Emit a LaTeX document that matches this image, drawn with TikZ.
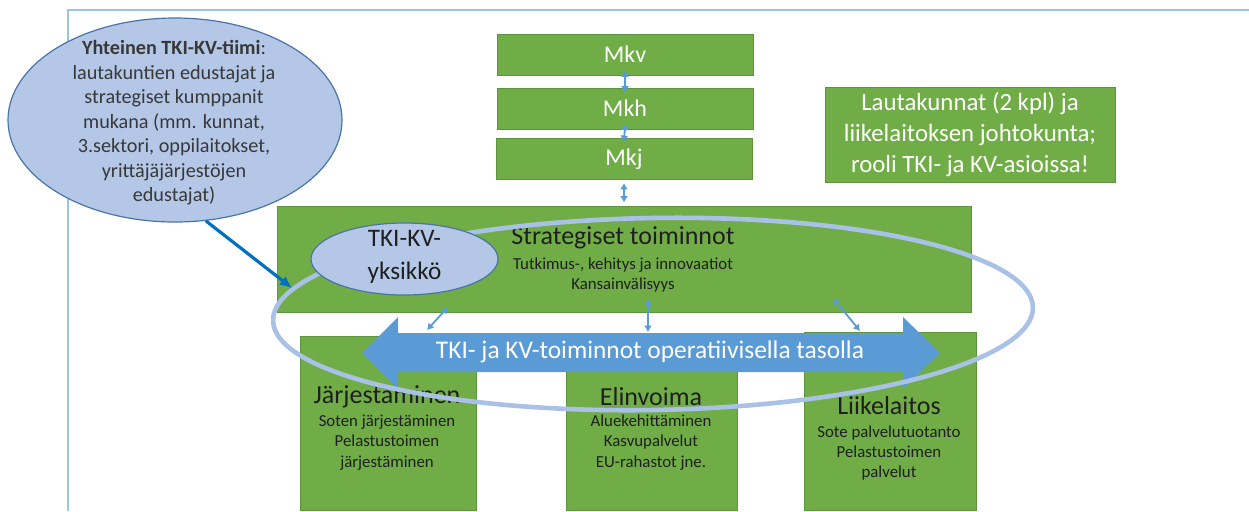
\documentclass[tikz,border=0pt]{standalone}
\usepackage{fontspec}
\setmainfont{Carlito}
\usetikzlibrary{shapes.geometric,arrows.meta}
\definecolor{greenfill}{HTML}{70AD47}
\definecolor{greenedge}{HTML}{5E9440}
\definecolor{ovalfill}{HTML}{B4C7E7}
\definecolor{ovaledge}{HTML}{4A74A8}
\definecolor{linkblue}{HTML}{5B9BD5}
\definecolor{teamblue}{HTML}{0070C0}
\definecolor{ringblue}{HTML}{A9C1E6}
\definecolor{framecol}{HTML}{9DC3E6}
\definecolor{inktext}{HTML}{1F1F1F}
\tikzset{
  greenbox/.style = {shape=rectangle, draw=greenedge, fill=greenfill,
                     inner sep=0pt, line width=0.5pt},
  mkbox/.style    = {greenbox, minimum width=128pt, minimum height=20.5pt,
                     text=white, font=\fontsize{12}{14}\selectfont},
  oval/.style     = {shape=ellipse, draw=ovaledge, fill=ovalfill,
                     inner sep=0pt, line width=0.6pt},
  headtext/.style = {text=inktext, font=\fontsize{13}{15}\selectfont},
  subtext/.style  = {align=center, text=inktext,
                     font=\fontsize{8.4}{10.2}\selectfont},
  link/.style     = {{Latex[length=3.2pt,width=4pt]}-{Latex[length=3.2pt,width=4pt]},
                     draw=linkblue, line width=0.9pt}
}
\begin{document}
\begin{tikzpicture}[x=0.5pt,y=-0.5pt]
 \useasboundingbox (0,0) rectangle (1249,511);
 % frame
 \draw[framecol, line width=0.6pt] (1249,10) -- (68,10) -- (68,511);

 % team
 \node[oval, minimum width=167pt, minimum height=102pt] (team) at (175,120) {};
 \node[align=center, text=black!78, font=\fontsize{10.1}{12.25}\selectfont]
   (teamtext) at (174,123)
   {\textbf{Yhteinen TKI-KV-tiimi}:\\ lautakuntien edustajat ja\\
    strategiset kumppanit\\ mukana (mm. kunnat,\\
    3.sektori, oppilaitokset,\\ yrittäjäjärjestöjen\\ edustajat)};

 % boards
 \node[mkbox] (mkv) at (625,54.5) {Mkv};
 \node[mkbox] (mkh) at (625,108.5) {Mkh};
 \node[mkbox] (mkj) at (624,159) {Mkj};
 \node[greenbox, minimum width=145pt, minimum height=47.5pt, align=center,
       text=white, font=\fontsize{12.4}{15.5}\selectfont] (lauta) at (970,134.5)
   {Lautakunnat (2 kpl) ja\\ liikelaitoksen johtokunta;\\ rooli TKI- ja KV-asioissa!};

 % strategic level
 \node[greenbox, minimum width=347pt, minimum height=53pt] (strat) at (624,259) {};
 \node[headtext] (strattitle) at (623,238) {Strategiset toiminnot};
 \node[subtext] (stratsub) at (623,275)
   {Tutkimus-, kehitys ja innovaatiot\\ Kansainvälisyys};

 % operative units
 \node[greenbox, minimum width=88pt, minimum height=87pt] (jarj) at (388,423) {};
 \node[greenbox, minimum width=85.5pt, minimum height=85pt] (elin) at (651.5,425) {};
 \node[greenbox, minimum width=86pt, minimum height=89pt] (liike) at (890,421) {};
 \node[headtext] (jarjtitle) at (387,397) {Järjestäminen};
 \node[subtext] (jarjsub) at (387,442.5)
   {Soten järjestäminen\\ Pelastustoimen\\ järjestäminen};
 \node[headtext] (elintitle) at (651,397) {Elinvoima};
 \node[subtext] (elinsub) at (651,442.5)
   {Aluekehittäminen\\ Kasvupalvelut\\ EU-rahastot jne.};
 \node[headtext] (liiketitle) at (889,406) {Liikelaitos};
 \node[subtext] (liikesub) at (889,453)
   {Sote palvelutuotanto\\ Pelastustoimen\\ palvelut};

 % operative arrow
 \fill[linkblue] (362,353) -- (398,317) -- (398,333) -- (903,333) -- (903,317)
   -- (940,353) -- (903,389) -- (903,372) -- (398,372) -- (398,389) -- cycle;
 \node[text=white, font=\fontsize{12.7}{15}\selectfont] (optext) at (650,352)
   {TKI- ja KV-toiminnot operatiivisella tasolla};

 % ring round the levels
 \draw[ringblue, line width=2.3pt, rotate around={1:(653,314)}]
   (653,314) ellipse [x radius=380, y radius=96];

 \node[oval, minimum width=93.5pt, minimum height=36pt] (unit) at (404.5,259) {};
 \node[align=center, text=inktext, font=\fontsize{12.6}{16.5}\selectfont]
   (unittext) at (404.5,256.5) {TKI-KV-\\ yksikkö};

 % links
 \coordinate (ringpt) at (292,288);
 \draw[teamblue, line width=1.6pt, -{Latex[length=6pt,width=5.5pt]}]
   (team.-73) -- (ringpt);
 \draw[link, shorten <=-2.5pt, shorten >=-2.5pt] (mkv.south) -- (mkh.north);
 \draw[link, shorten <=-3pt, shorten >=-2pt] (mkh.south) -- (mkj.north);
 \draw[link, shorten <=1.5pt, shorten >=1.5pt] (mkj.south) -- (strat.north);
 \coordinate (sl) at (448,307); \coordinate (ol) at (427,330);
 \coordinate (sm) at (648,299); \coordinate (om) at (648,332);
 \coordinate (sr) at (833,298); \coordinate (or) at (860,331);
 \draw[link] (sl) -- (ol);
 \draw[link] (sm) -- (om);
 \draw[link] (sr) -- (or);
\end{tikzpicture}
\end{document}
